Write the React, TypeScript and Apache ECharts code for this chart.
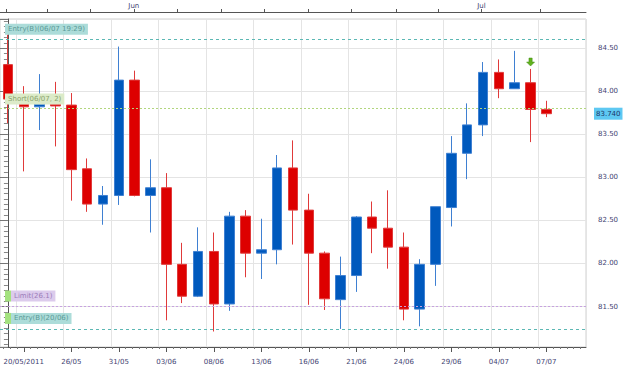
import React, { useEffect, useRef } from 'react';
import * as echarts from 'echarts';

const FONT = 'DejaVu Sans';

const categories = [
  '19/05', '20/05/2011', '23/05', '25/05', '26/05', '27/05', '30/05', '31/05', '01/06', '02/06',
  '03/06', '06/06', '07/06', '08/06', '09/06', '10/06', '13/06', '14/06', '15/06', '16/06',
  '17/06', '20/06', '21/06', '22/06', '23/06', '24/06', '27/06', '28/06', '29/06', '30/06',
  '01/07', '04/07', '05/07', '06/07', '07/07', '08/07', '11/07',
];

const opens = [
  84.31, 83.85, 83.82, 83.85, 83.84, 83.10, 82.69, 82.79, 84.13, 82.79,
  82.88, 81.99, 81.62, 82.14, 81.53, 82.55, 82.12, 82.16, 83.11, 82.62,
  82.12, 81.58, 81.86, 82.54, 82.41, 82.19, 81.47, 81.99, 82.65, 83.28,
  83.61, 84.22, 84.03, 84.10, 83.79,
];
const closes = [
  83.91, 83.82, 83.85, 83.83, 83.09, 82.69, 82.79, 84.13, 82.79, 82.88,
  81.99, 81.62, 82.14, 81.53, 82.55, 82.12, 82.16, 83.11, 82.62, 82.12,
  81.59, 81.86, 82.54, 82.41, 82.19, 81.47, 81.99, 82.66, 83.28, 83.61,
  84.22, 84.03, 84.10, 83.79, 83.74,
];
const lows = [
  83.63, 83.07, 83.55, 83.36, 82.73, 82.60, 82.45, 82.68, 82.78, 82.36,
  81.34, 81.54, 81.61, 81.21, 81.45, 81.84, 81.82, 81.99, 82.22, 81.52,
  81.46, 81.24, 81.67, 82.12, 81.94, 81.34, 81.27, 81.74, 82.43, 82.98,
  83.48, 83.92, 84.03, 83.41, 83.70,
];
const highs = [
  84.66, 84.06, 84.20, 84.11, 83.98, 83.22, 82.90, 84.52, 84.24, 83.21,
  83.05, 82.24, 82.42, 82.36, 82.60, 82.62, 82.52, 83.26, 83.43, 82.81,
  82.14, 82.08, 82.55, 82.72, 82.85, 82.36, 82.05, 82.66, 83.48, 83.86,
  84.34, 84.37, 84.47, 84.26, 83.89,
];

const levelValues = [84.605, 83.8, 81.5, 81.244];
const levelLabels = ['Entry(B)(06/07 19:29)', 'Short(06/07, 2)', 'Limit(26.1)', 'Entry(B)(20/06)'];
const lastPrice = 83.74;
const lastPriceLabel = '83.740';

const topTickPos = [-0.13, 2.5, 5.2, 7.95, 10.7, 13.46, 16.2, 18.97, 21.7, 24.5, 27.2, 29.9, 33.6];
const topLabelPos = [7.95, 29.9];
const topLabelText = ['Jun', 'Jul'];

const monthMarkerY = 84.895;
const arrowIndex = 33;
const arrowY = 84.34;

const Y_MIN = 81.03;
const Y_MAX = 84.84;

const BLUE = '#0059bd';
const RED = '#dd0000';
const AXIS_TEXT = '#3f3f72';

function buildOption() {
  const candleData = opens.map((o, i) => [o, closes[i], lows[i], highs[i]]);

  const minorTicks: number[] = [];
  for (let j = -3; j <= 82; j++) {
    if (j % 7 !== 0) minorTicks.push(1 + (j * 3) / 7);
  }

  const labelEvery = (i: number) => i % 3 === 1;

  const entryStyle = { bg: '#acdcd9', fg: '#5a9a97', line: '#5cb8b4' };
  const shortStyle = { bg: '#dcebc8', fg: '#8ba46d', line: '#b2d67e' };
  const limitStyle = { bg: '#dccbec', fg: '#9b7bb9', line: '#c7a2e0' };

  const plainLabel = (s: any) => ({
    show: true,
    position: 'insideStartTop',
    distance: [5, 4],
    backgroundColor: s.bg,
    color: s.fg,
    padding: [2, 3, 2, 3],
    fontSize: 7,
    fontFamily: FONT,
  });
  const richLabel = (s: any, text: string) => ({
    show: true,
    position: 'insideStartTop',
    distance: [5, 5],
    formatter: '{g|}{t|' + text + '}',
    rich: {
      g: { backgroundColor: '#a4e27f', width: 6, height: 11 },
      t: {
        backgroundColor: s.bg,
        color: s.fg,
        padding: [0, 3],
        height: 11,
        lineHeight: 11,
        fontSize: 7,
        fontFamily: FONT,
      },
    },
  });

  const styles = [entryStyle, shortStyle, limitStyle, entryStyle];
  const markLineData: any[] = levelValues.map((v, i) => {
    const s = styles[i];
    const dashed = i === 0 || i === 3;
    return {
      yAxis: v,
      name: levelLabels[i],
      lineStyle: { color: s.line, width: 1, type: dashed ? [3, 3] : [2, 2] },
      label: i >= 2 ? richLabel(s, levelLabels[i]) : { ...plainLabel(s), formatter: levelLabels[i] },
    };
  });
  markLineData.push({
    yAxis: lastPrice,
    lineStyle: { color: 'rgba(0,0,0,0)', width: 1 },
    label: {
      show: true,
      position: 'end',
      distance: 8,
      formatter: lastPriceLabel,
      backgroundColor: '#5ec8f2',
      color: '#1b3567',
      padding: [3, 2, 2, 2],
      fontSize: 7,
      fontFamily: FONT,
    },
  });

  return {
    animation: false,
    backgroundColor: '#ffffff',
    textStyle: { fontFamily: FONT },
    grid: {
      left: -5,
      right: 39,
      top: 19,
      bottom: 23,
      show: true,
      borderColor: '#d0d0d0',
      borderWidth: 1,
      containLabel: false,
    },
    xAxis: [
      {
        type: 'category',
        data: categories,
        position: 'bottom',
        boundaryGap: true,
        axisLine: { show: true, lineStyle: { color: '#555555', width: 1 } },
        axisTick: { show: true, interval: labelEvery, alignWithLabel: true, length: 5, lineStyle: { color: '#555555' } },
        axisLabel: {
          show: true,
          interval: labelEvery,
          margin: 11,
          color: AXIS_TEXT,
          fontSize: 7,
          fontFamily: FONT,
        },
        splitLine: { show: true, interval: labelEvery, lineStyle: { color: '#e4e4e4', width: 1 } },
      },
      {
        type: 'value',
        position: 'bottom',
        min: -0.5,
        max: 36.5,
        axisLine: { show: false },
        axisTick: { show: true, customValues: minorTicks, length: 2, lineStyle: { color: '#777777' } },
        axisLabel: { show: false },
        splitLine: { show: false },
      },
      {
        type: 'value',
        position: 'top',
        offset: 7,
        min: -0.5,
        max: 36.5,
        axisLine: { show: true, lineStyle: { color: '#555555', width: 1 } },
        axisTick: { show: true, customValues: topTickPos, length: 3, lineStyle: { color: '#555555' } },
        axisLabel: {
          show: true,
          customValues: topLabelPos,
          formatter: (v: number) => {
            const idx = topLabelPos.findIndex((p) => Math.abs(p - v) < 0.01);
            return idx >= 0 ? topLabelText[idx] : '';
          },
          margin: 3,
          color: AXIS_TEXT,
          fontSize: 7,
          fontFamily: FONT,
        },
        splitLine: { show: false },
      },
    ],
    yAxis: {
      type: 'value',
      position: 'right',
      offset: 9,
      min: Y_MIN,
      max: Y_MAX,
      splitNumber: 8,
      scale: true,
      axisLine: { show: true, lineStyle: { color: '#555555', width: 1 } },
      axisTick: { show: true, inside: true, length: 9, lineStyle: { color: '#777777' } },
      minorTick: { show: true, splitNumber: 8, length: 4, lineStyle: { color: '#888888' } },
      axisLabel: {
        show: true,
        showMinLabel: false,
        showMaxLabel: false,
        formatter: (v: number) => v.toFixed(2),
        margin: 3,
        color: AXIS_TEXT,
        fontSize: 7,
        fontFamily: FONT,
      },
      splitLine: { show: true, lineStyle: { color: '#e4e4e4', width: 1 } },
      minorSplitLine: { show: false },
    },
    series: [
      {
        type: 'candlestick',
        data: candleData,
        barWidth: 10,
        itemStyle: {
          color: BLUE,
          color0: RED,
          borderColor: '#3f80d2',
          borderColor0: '#e03a3a',
          borderWidth: 1,
        },
        markLine: {
          silent: true,
          symbol: ['none', 'none'],
          data: markLineData,
        },
        markPoint: {
          silent: true,
          label: { show: false },
          data: [
            {
              coord: [8, monthMarkerY],
              symbol: 'triangle',
              symbolRotate: 180,
              symbolSize: [7, 5],
              itemStyle: { color: '#f5a623' },
            },
            {
              coord: [30, monthMarkerY],
              symbol: 'triangle',
              symbolRotate: 180,
              symbolSize: [7, 5],
              itemStyle: { color: '#f5a623' },
            },
            {
              coord: [arrowIndex, arrowY],
              symbol: 'path://M3,0 L7,0 L7,5 L10,5 L5,10 L0,5 L3,5 Z',
              symbolSize: [8, 8],
              itemStyle: { color: '#62b21e', borderColor: '#3f8a12', borderWidth: 0.5 },
            },
          ],
        },
      },
    ],
  };
}

export default function App() {
  const ref = useRef<HTMLDivElement>(null);
  useEffect(() => {
    if (!ref.current) return;
    const chart = echarts.init(ref.current, null, { renderer: 'svg' });
    chart.setOption(buildOption() as any);
    return () => {
      chart.dispose();
    };
  }, []);
  return (
    <div
      ref={ref}
      style={{ width: 625, height: 370, position: 'absolute', left: 0, top: 0 }}
    />
  );
}
